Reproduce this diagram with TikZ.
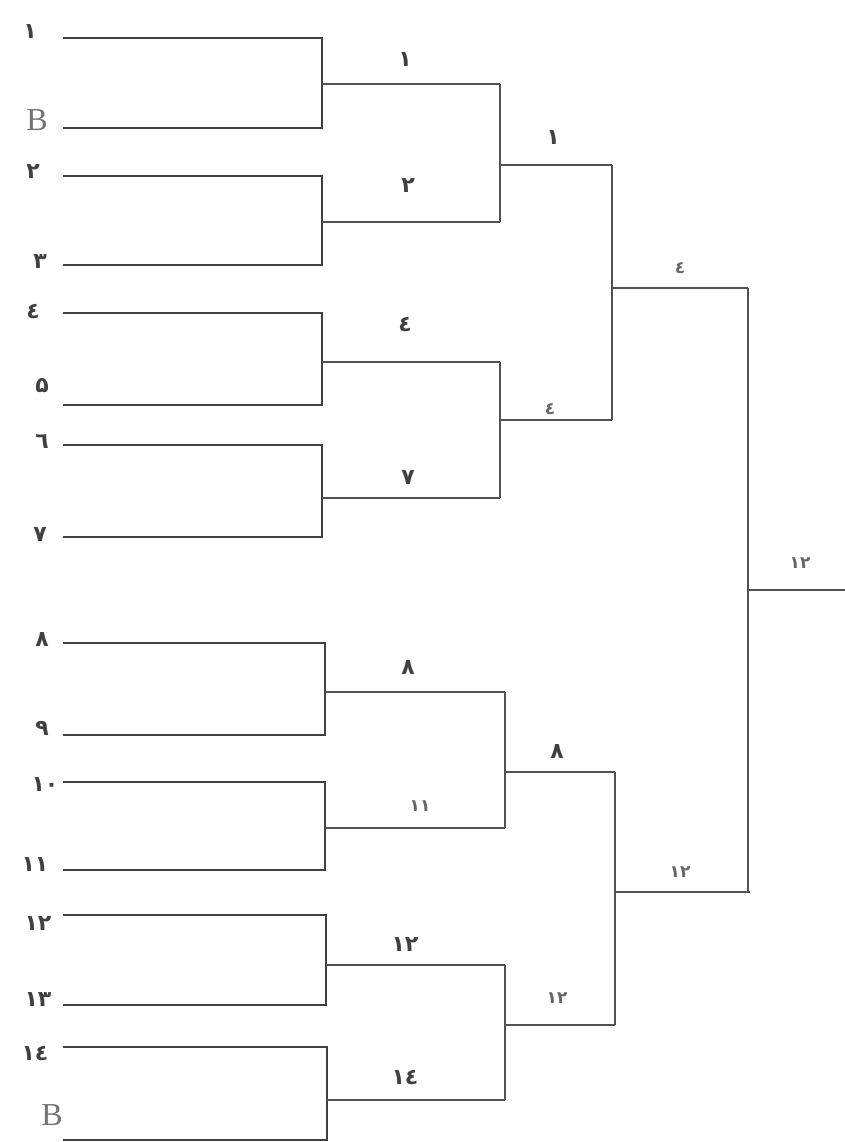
\documentclass[tikz,border=0pt]{standalone}
\usepackage{fontspec}
\setmainfont{Liberation Serif}
\newfontfamily\ar{DejaVu Sans}
\begin{document}
\begin{tikzpicture}[x=1pt,y=-1pt,line join=miter,
  firstline/.style={line width=2.2pt,draw=black!75},
  roundline/.style={line width=1.6pt,draw=black!68},
  lab/.style={font=\ar\bfseries\fontsize{22}{22}\selectfont,text=black!75,inner sep=0pt},
  slab/.style={font=\ar\bfseries\fontsize{17}{17}\selectfont,text=black!60,inner sep=0pt},
  blab/.style={font=\fontsize{32}{32}\selectfont,text=black!55,inner sep=0pt}]
\useasboundingbox (0,0) rectangle (845,1142);
% first round
\foreach \k/\ya/\yb/\xr/\ym/\xo in {1/38/128/322/84/500,2/176/265/322/222/500,3/313/405/322/362/500,4/445/537/322/498/500,5/643/735/325/692/505,6/782/870/325/828/505,7/915/1005/326/965/505,8/1047/1140/327/1100/505}{
  \coordinate (a\k) at (63,\ya);
  \coordinate (b\k) at (63,\yb);
  \coordinate (v\k) at (\xr,\ym);
  \coordinate (m\k) at (\xo,\ym);
  \draw[firstline] (a\k) -| (v\k) |- (b\k);
  \draw[roundline] (v\k) -- (m\k);
}
% second round
\coordinate (n1) at (612,165);
\coordinate (n2) at (612,420);
\coordinate (n3) at (615,772);
\coordinate (n4) at (615,1025);
\draw[roundline] (m1) -- (m2);
\draw[roundline] (m3) -- (m4);
\draw[roundline] (m5) -- (m6);
\draw[roundline] (m7) -- (m8);
\draw[roundline] (m1|-n1) -- (n1);
\draw[roundline] (m3|-n2) -- (n2);
\draw[roundline] (m5|-n3) -- (n3);
\draw[roundline] (m7|-n4) -- (n4);
% third round
\coordinate (p1) at (748,288);
\coordinate (p2) at (750,892);
\draw[roundline] (n1) -- (n2);
\draw[roundline] (n3) -- (n4);
\draw[roundline] (n1|-p1) -- (p1);
\draw[roundline] (n3|-p2) -- (p2);
% final
\coordinate (f) at (845,590);
\draw[roundline] (p1) -- (p1|-p2) -- (p2);
\draw[roundline] (p1|-f) -- (f);
% left labels
\node[lab] (t1) at (30,32) {١};
\node[blab] (t2) at (37,120) {B};
\node[lab] (t3) at (33,172) {٢};
\node[lab] (t4) at (40,262) {٣};
\node[lab] (t5) at (33,312) {٤};
\node[lab] (t6) at (42,386) {۵};
\node[lab] (t7) at (42,442) {٦};
\node[lab] (t8) at (40,535) {٧};
\node[lab] (t9) at (42,640) {٨};
\node[lab] (t10) at (42,728) {٩};
\node[lab] (t11) at (45,785) {١٠};
\node[lab] (t12) at (35,865) {١١};
\node[lab] (t13) at (38,924) {١٢};
\node[lab] (t14) at (38,1000) {١٣};
\node[lab] (t15) at (35,1053) {١٤};
\node[blab] (t16) at (52,1115) {B};
% second round labels
\node[lab] (s1) at (405,60) {١};
\node[lab] (s2) at (408,186) {٢};
\node[lab] (s3) at (405,325) {٤};
\node[lab] (s4) at (408,478) {٧};
\node[lab] (s5) at (408,668) {٨};
\node[slab] (s6) at (420,806) {١١};
\node[lab] (s7) at (405,945) {١٢};
\node[lab] (s8) at (405,1077) {١٤};
% third round labels
\node[lab] (u1) at (553,138) {١};
\node[slab] (u2) at (550,409) {٤};
\node[lab] (u3) at (557,752) {٨};
\node[slab] (u4) at (557,998) {١٢};
% fourth round labels
\node[slab] (w1) at (680,268) {٤};
\node[slab] (w2) at (680,872) {١٢};
\node[slab] (w3) at (800,563) {١٢};
\end{tikzpicture}
\end{document}
